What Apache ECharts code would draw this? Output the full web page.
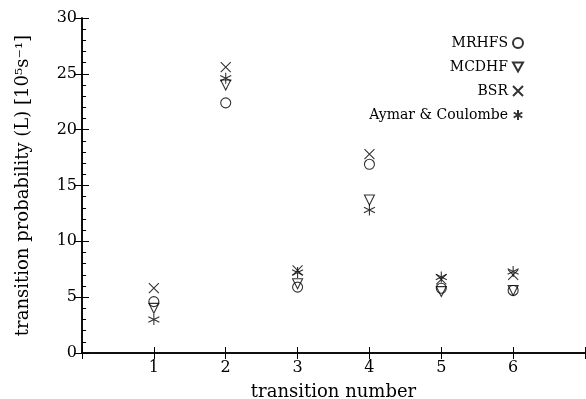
<!DOCTYPE html>
<html><head><meta charset="utf-8">
<script src="https://cdn.jsdelivr.net/npm/echarts@6/dist/echarts.min.js"></script>
<style>html,body{margin:0;padding:0;background:#fff}#c{width:586px;height:399px}</style>
</head><body><div id="c"></div>
<script>
const transitions = [1, 2, 3, 4, 5, 6];
const mrhfs  = [4.6, 22.4, 5.9, 16.9, 5.8, 5.6];
const mcdhf  = [4.0, 24.0, 6.2, 13.7, 5.5, 5.6];
const bsr    = [5.8, 25.6, 7.4, 17.8, 6.6, 7.0];
const aymar  = [3.0, 24.6, 7.2, 12.8, 6.8, 7.3];
const seriesNames = ['MRHFS', 'MCDHF', 'BSR', 'Aymar & Coulombe'];
const yTicks = [0, 5, 10, 15, 20, 25, 30];

const FONT = 'DejaVu Serif';
const syms = [
  'circle',
  'path://M0,0L10,0L5,9Z',
  'path://M0,0L10,10M10,0L0,10',
  'path://M5,0L5,10M0.7,2.5L9.3,7.5M0.7,7.5L9.3,2.5'
];
const sizes = [10, 10, 10, 11];
const datasets = [mrhfs, mcdhf, bsr, aymar];

const chart = echarts.init(document.getElementById('c'));
const axisCommon = {
  axisLine: {show: true, lineStyle: {color: '#000', width: 1.5}},
  splitLine: {show: false}
};
chart.setOption({
  animation: false,
  backgroundColor: '#fff',
  textStyle: {fontFamily: FONT, color: '#000'},
  grid: {left: 82, right: 1, top: 18, bottom: 46, containLabel: false, outerBoundsMode: 'none'},
  legend: {
    orient: 'vertical', right: 57, top: 31, align: 'right',
    itemGap: 10, itemWidth: 10, itemHeight: 10,
    textStyle: {fontFamily: FONT, fontSize: 14, color: '#000'},
    data: seriesNames
  },
  xAxis: [{
    type: 'value', min: 0, max: 7, interval: 1, position: 'bottom',
    name: 'transition number', nameLocation: 'middle', nameGap: 30,
    nameTextStyle: {fontFamily: FONT, fontSize: 18, color: '#000'},
    axisTick: {inside: true, length: 6, lineStyle: {color: '#000', width: 1}},
    axisLabel: {fontFamily: FONT, fontSize: 16, color: '#000', margin: 7,
      formatter: v => (transitions.indexOf(v) >= 0 ? String(v) : '')},
    ...axisCommon
  }, {
    type: 'value', min: 0, max: 7, interval: 1, position: 'top',
    axisTick: {inside: true, length: 6, lineStyle: {color: '#000', width: 1}},
    axisLabel: {show: false}, ...axisCommon
  }],
  yAxis: [{
    type: 'value', min: 0, max: 30, interval: 5, position: 'left',
    name: 'transition probability (L) [10\u2075s\u207B\u00B9]', nameLocation: 'middle', nameGap: 50,
    nameTextStyle: {fontFamily: FONT, fontSize: 18, color: '#000'},
    axisTick: {inside: true, length: 7, lineStyle: {color: '#000', width: 1}},
    minorTick: {show: true, splitNumber: 5, length: 4, lineStyle: {color: '#000', width: 1}},
    axisLabel: {fontFamily: FONT, fontSize: 16, color: '#000', margin: 5,
      formatter: v => (yTicks.indexOf(v) >= 0 ? String(v) : '')},
    ...axisCommon
  }, {
    type: 'value', min: 0, max: 30, interval: 5, position: 'right',
    axisTick: {inside: true, length: 7, lineStyle: {color: '#000', width: 1}},
    axisLabel: {show: false}, ...axisCommon
  }],
  series: seriesNames.map((n, i) => ({
    name: n, type: 'scatter', xAxisIndex: 0, yAxisIndex: 0,
    symbol: syms[i], symbolSize: sizes[i],
    itemStyle: {color: 'rgba(0,0,0,0)', borderColor: '#000', borderWidth: 1.1},
    data: transitions.map((t, k) => [t, datasets[i][k]])
  }))
});
</script></body></html>
